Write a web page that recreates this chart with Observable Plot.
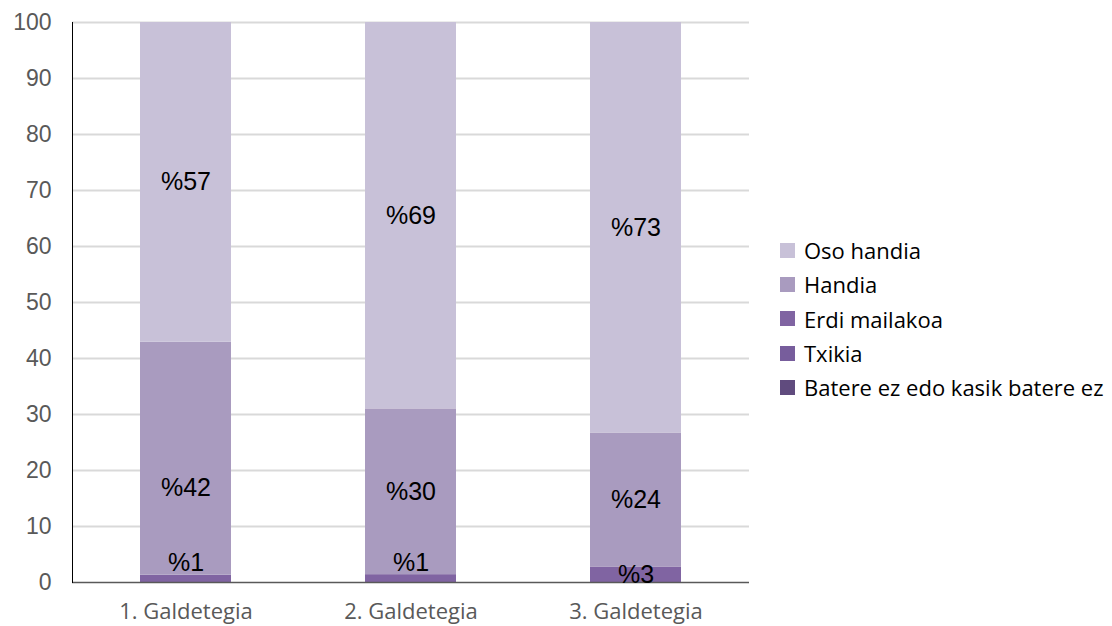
<!DOCTYPE html>
<html>
<head>
<meta charset="utf-8">
<script src="https://cdn.jsdelivr.net/npm/d3@7"></script>
<script src="https://cdn.jsdelivr.net/npm/@observablehq/plot@0.6"></script>
<style>
  html, body { margin: 0; padding: 0; background: #fff; }
  #wrap { position: relative; width: 1112px; height: 626px; overflow: hidden; }
  #legend { position: absolute; left: 780px; top: 233px; font-family: "Open Sans", "Noto Sans", sans-serif; font-size: 22px; color: #000; }
  #legend .item { display: flex; align-items: center; height: 34.3px; white-space: nowrap; }
  #legend .sw { width: 15px; height: 15px; margin-right: 9px; flex: none; }
</style>
</head>
<body>
<div id="wrap"><div id="legend"></div></div>
<script>
const categories = ["1. Galdetegia", "2. Galdetegia", "3. Galdetegia"];
const levels = ["Batere ez edo kasik batere ez", "Txikia", "Erdi mailakoa", "Handia", "Oso handia"];
const bateres = [0, 0, 0];
const txikia = [0, 0, 0];
const erdi = [1.3, 1.4, 2.7];
const handia = [41.6, 29.6, 24.0];
const osoHandia = [57.1, 69.0, 73.3];
const yTicks = [0, 10, 20, 30, 40, 50, 60, 70, 80, 90, 100];
const colors = ["#604b7e", "#775d9c", "#8064a2", "#a99bbf", "#c8c1d8"];

const series = [bateres, txikia, erdi, handia, osoHandia];
const rows = [];
categories.forEach((cat, i) => {
  let cum = 0;
  levels.forEach((level, j) => {
    const v = series[j][i];
    rows.push({cat, level, v, y1: cum, y2: cum + v, mid: cum + v / 2});
    cum += v;
  });
});
const labelled = rows.filter(d => d.v > 0);
const nudge = d => d.v < 2 ? -16 : (d.cat === categories[0] && d.level === "Handia" ? 29 : 0);
const nudges = Array.from(new Set(labelled.map(nudge)));

const textMarks = nudges.map(n => Plot.text(labelled.filter(d => nudge(d) === n), {
  x: "cat", y: "mid", text: d => "%" + Math.round(d.v), dy: n,
  fill: "#000", fontSize: 25, fontFamily: "'Liberation Sans', Arial, sans-serif"
}));

const chart = Plot.plot({
  width: 1112,
  height: 626,
  marginLeft: 72,
  marginRight: 363,
  marginTop: 22,
  marginBottom: 44,
  style: {fontFamily: "'Liberation Sans', Arial, sans-serif", background: "#fff"},
  x: {domain: categories, paddingInner: 0.596, paddingOuter: 0.298, label: null},
  y: {domain: [0, 100], label: null},
  color: {domain: levels, range: colors},
  marks: [
    Plot.ruleY(yTicks.filter(t => t > 0), {stroke: "#d9d9d9", strokeWidth: 2}),
    Plot.barY(rows.filter(d => d.v > 0), {x: "cat", y1: "y1", y2: "y2", fill: "level"}),
    Plot.ruleY([0], {stroke: "#595959", strokeWidth: 1.5}),
    Plot.axisY({ticks: yTicks, tickSize: 0, tickPadding: 21, fontSize: 23, fill: "#595959", label: null, fontFamily: "'Liberation Sans', Arial, sans-serif"}),
    Plot.axisX({tickSize: 0, tickPadding: 21, fontSize: 22, fill: "#595959", label: null, fontFamily: "'Open Sans', 'Noto Sans', sans-serif"}),
    Plot.frame({anchor: "left", stroke: "#000", strokeWidth: 1}),
    ...textMarks
  ]
});
document.getElementById("wrap").prepend(chart);

const legend = document.getElementById("legend");
[...levels].reverse().forEach(level => {
  const item = document.createElement("div");
  item.className = "item";
  const sw = document.createElement("span");
  sw.className = "sw";
  sw.style.background = colors[levels.indexOf(level)];
  const t = document.createElement("span");
  t.textContent = level;
  item.append(sw, t);
  legend.append(item);
});
</script>
</body>
</html>
